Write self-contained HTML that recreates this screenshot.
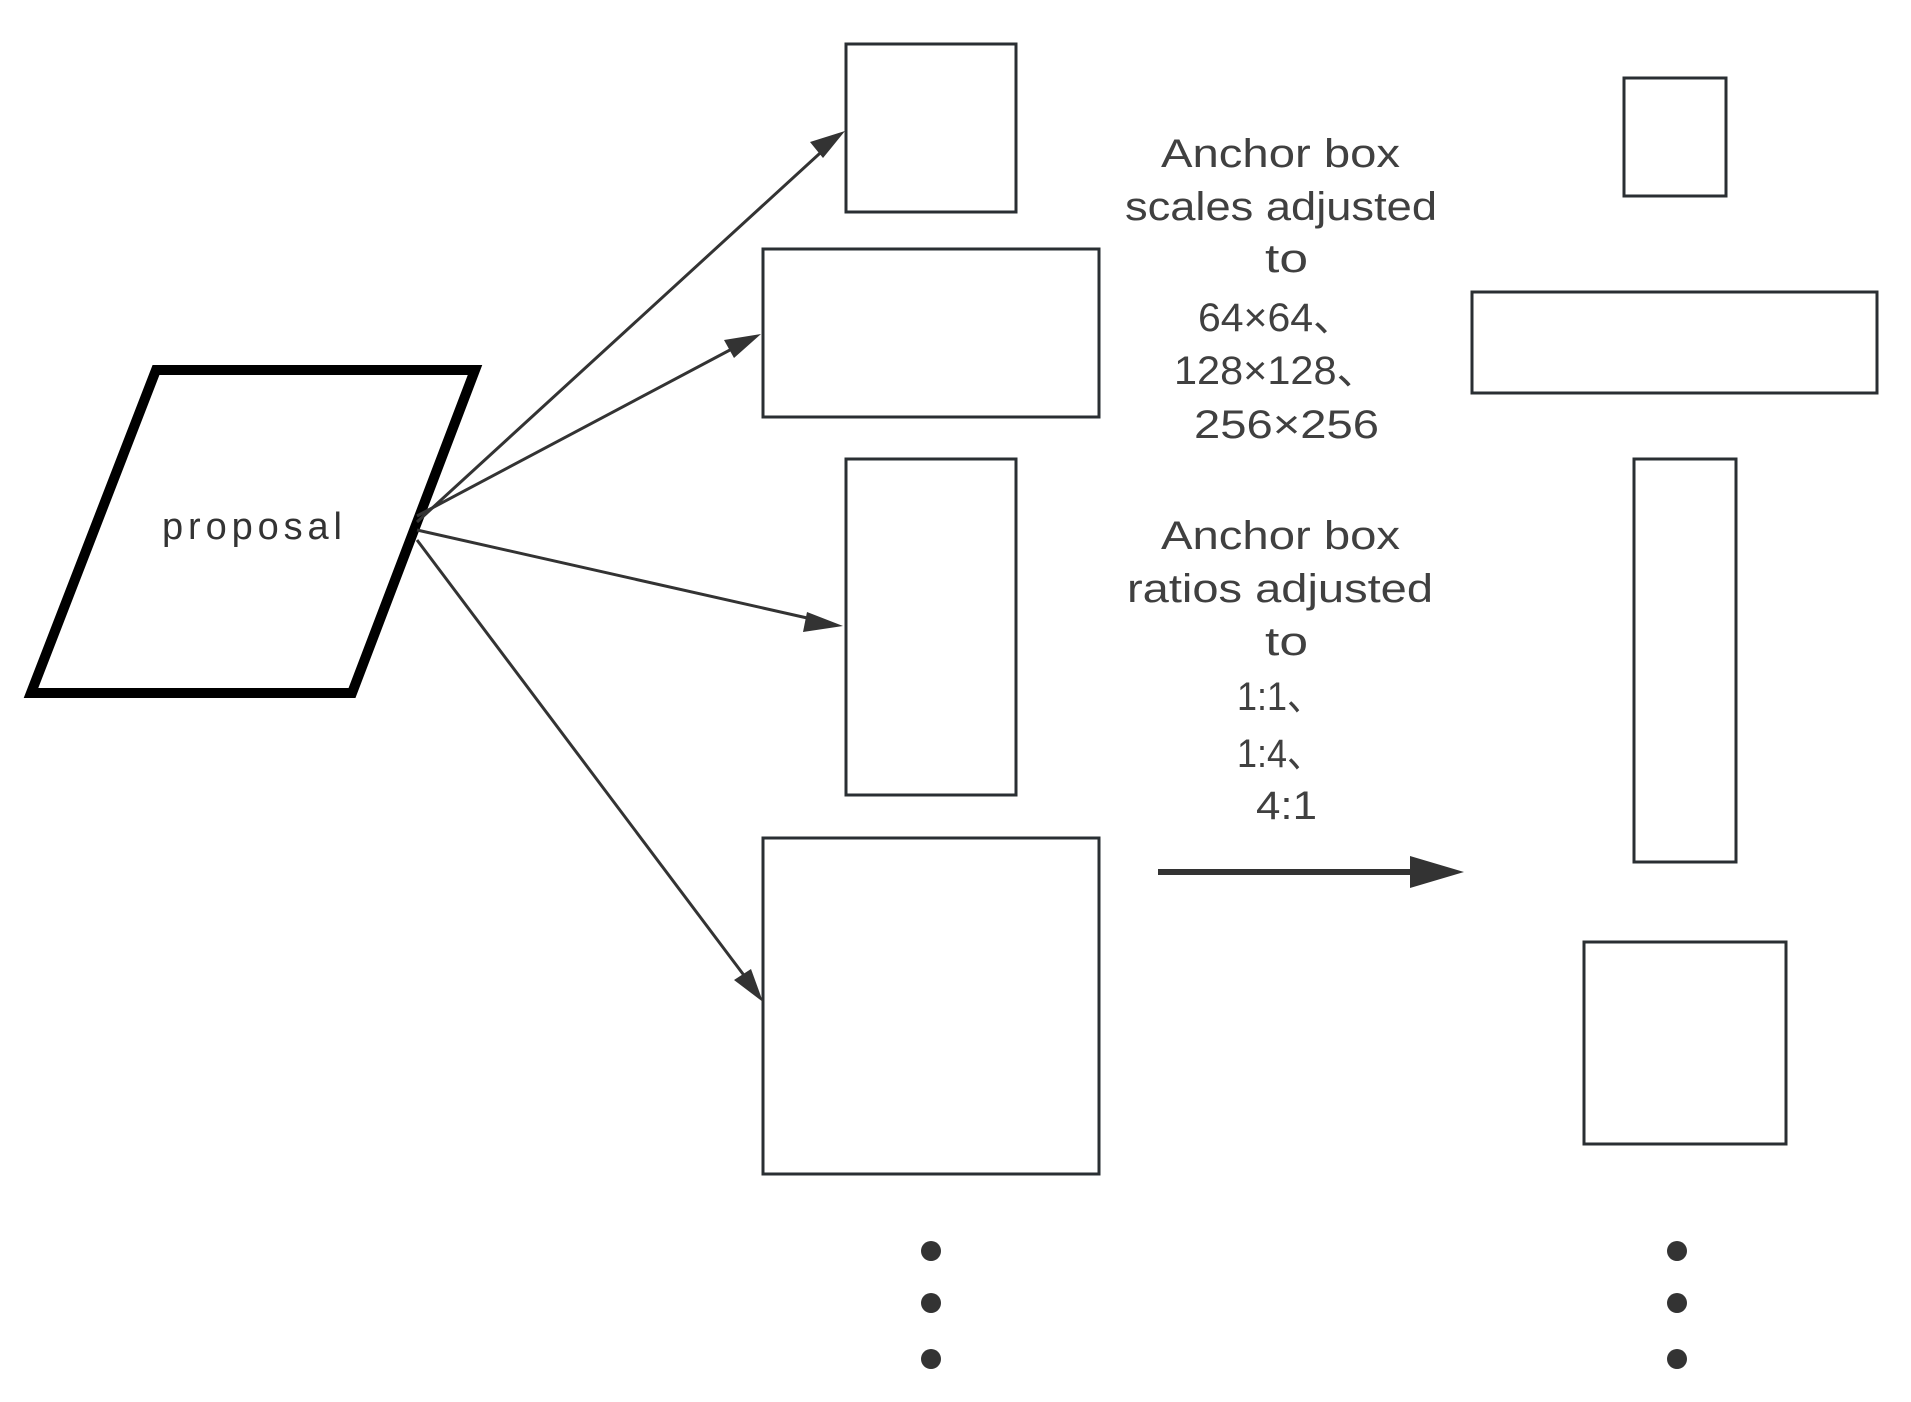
<!DOCTYPE html>
<html><head><meta charset="utf-8"><style>html,body{margin:0;padding:0;background:#fff;}svg{display:block}</style></head>
<body>
<svg width="1911" height="1402" viewBox="0 0 1911 1402" xmlns="http://www.w3.org/2000/svg">
<defs>
<marker id="ah" markerWidth="10" markerHeight="8" refX="9" refY="4" orient="auto" markerUnits="userSpaceOnUse" viewBox="0 0 10 8">
</marker>
</defs>
<polygon points="156,370 475,370 352,693 31,693" fill="#fff" stroke="#000" stroke-width="10"/>
<text x="252" y="539" font-family="Liberation Sans, sans-serif" font-size="38" fill="#333" text-anchor="middle" textLength="180">proposal</text>
<g fill="#fff" stroke="#2a2f33" stroke-width="3">
<rect x="846" y="44" width="170" height="168"/>
<rect x="763" y="249" width="336" height="168"/>
<rect x="846" y="459" width="170" height="336"/>
<rect x="763" y="838" width="336" height="336"/>
<rect x="1624" y="78" width="102" height="118"/>
<rect x="1472" y="292" width="405" height="101"/>
<rect x="1634" y="459" width="102" height="403"/>
<rect x="1584" y="942" width="202" height="202"/>
</g>
<g stroke="#333" stroke-width="3">
<line x1="417" y1="522" x2="830" y2="144"/>
<line x1="417" y1="516" x2="745" y2="342"/>
<line x1="417" y1="530" x2="825" y2="622"/>
<line x1="417" y1="540" x2="752" y2="986"/>
<line x1="1158" y1="872" x2="1420" y2="872" stroke-width="6"/>
</g>
<g fill="#333">
<polygon points="845,131 810,142 823,158"/>
<polygon points="761,334 724,340 734,358"/>
<polygon points="843,626 807,612 803,632"/>
<polygon points="763,1002 734,980 751,969"/>
<polygon points="1464,872 1410,856 1410,888"/>
</g>
<g fill="#333">
<circle cx="931" cy="1251" r="10"/><circle cx="931" cy="1303" r="10"/><circle cx="931" cy="1359" r="10"/>
<circle cx="1677" cy="1251" r="10"/><circle cx="1677" cy="1303" r="10"/><circle cx="1677" cy="1359" r="10"/>
</g>
<g font-family="Liberation Sans, 'Noto Sans CJK SC', sans-serif" font-size="40" fill="#404040" lengthAdjust="spacingAndGlyphs">
<text x="1161" y="167" textLength="239" lengthAdjust="spacingAndGlyphs">Anchor box</text>
<text x="1125" y="220" textLength="312" lengthAdjust="spacingAndGlyphs">scales adjusted</text>
<text x="1265" y="272" textLength="43" lengthAdjust="spacingAndGlyphs">to</text>
<text x="1198" y="331" textLength="156" lengthAdjust="spacingAndGlyphs">64×64、</text>
<text x="1174" y="384" textLength="204" lengthAdjust="spacingAndGlyphs">128×128、</text>
<text x="1194" y="438" textLength="185" lengthAdjust="spacingAndGlyphs">256×256</text>
<text x="1161" y="549" textLength="239" lengthAdjust="spacingAndGlyphs">Anchor box</text>
<text x="1127" y="602" textLength="306" lengthAdjust="spacingAndGlyphs">ratios adjusted</text>
<text x="1265" y="655" textLength="43" lengthAdjust="spacingAndGlyphs">to</text>
<text x="1237" y="710" textLength="86" lengthAdjust="spacingAndGlyphs">1:1、</text>
<text x="1237" y="767" textLength="86" lengthAdjust="spacingAndGlyphs">1:4、</text>
<text x="1256" y="819" textLength="61" lengthAdjust="spacingAndGlyphs">4:1</text>
</g>
</svg>
</body></html>
